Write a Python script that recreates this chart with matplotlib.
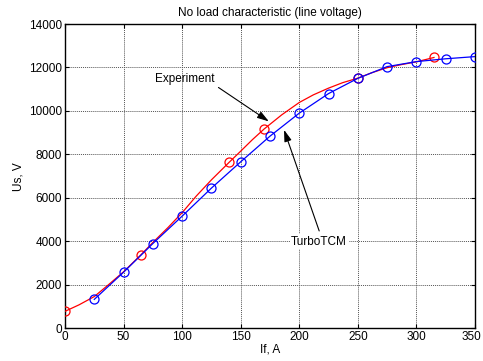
import matplotlib
matplotlib.use("Agg")
import matplotlib.pyplot as plt
import matplotlib.transforms as mtransforms

# Data
turbo_x = [25, 50, 75, 100, 125, 150, 175, 200, 225, 250, 275, 300, 325, 350]
turbo_y = [1330, 2580, 3900, 5160, 6450, 7660, 8840, 9900, 10800, 11500, 12040, 12270, 12400, 12500]

exp_x = [0, 65, 140, 170, 250, 315]
exp_y = [780, 3390, 7630, 9170, 11510, 12460]

exp_curve_x = [0, 12, 25, 37, 50, 65, 75, 88, 100, 112, 125, 140, 150, 160, 170, 185, 200, 212, 225, 237, 250, 262, 275, 287, 300, 315]
exp_curve_y = [780, 1080, 1460, 2000, 2600, 3390, 3950, 4640, 5320, 6080, 6830, 7630, 8150, 8680, 9170, 9820, 10390, 10740, 11050, 11300, 11510, 11760, 11990, 12130, 12260, 12460]

x_ticks = [0, 50, 100, 150, 200, 250, 300, 350]
y_ticks = [0, 2000, 4000, 6000, 8000, 10000, 12000, 14000]

plt.rcParams['font.family'] = ['Liberation Sans', 'DejaVu Sans']
fs = 8.5

fig = plt.figure(figsize=(4.83, 3.61), dpi=100)
ax = fig.add_axes([0.1346, 0.0906, 0.8488, 0.8429])

ax.plot(exp_curve_x, exp_curve_y, color='red', lw=0.9, zorder=3)
ax.plot(exp_x, exp_y, 'o', color='red', mfc='none', ms=6.5, mew=0.9, zorder=3)
ax.plot(turbo_x, turbo_y, '-o', color='blue', mfc='none', ms=6.5, mew=0.9, lw=0.9, zorder=4)

ax.set_xlim(0, 350)
ax.set_ylim(0, 14000)
ax.set_xticks(x_ticks)
ax.set_yticks(y_ticks)
ax.tick_params(direction='in', top=True, right=True, labelsize=fs, length=3, width=0.8, pad=2)
ax.grid(True, linestyle=(0, (1, 1)), color='#555555', lw=0.7)
for s in ax.spines.values():
    s.set_linewidth(1.0)

# keep the last x tick label inside the canvas
last = ax.get_xticklabels()[-1]
last.set_transform(last.get_transform() + mtransforms.ScaledTranslation(-4 / 100, 0, fig.dpi_scale_trans))

ax.set_title('No load characteristic (line voltage)', fontsize=fs, pad=6)
ax.set_xlabel('If, A', fontsize=fs, labelpad=0)
ax.set_ylabel('Us, V', fontsize=fs, labelpad=3)

arrow = dict(arrowstyle='-|>,head_length=0.7,head_width=0.22', color='black', lw=0.8, shrinkA=0, shrinkB=0)
ax.annotate('', xy=(174, 9520), xytext=(131, 11080), arrowprops=arrow, zorder=5)
ax.text(102, 11480, 'Experiment', fontsize=fs, ha='center', va='center', zorder=5)
ax.annotate('', xy=(187, 9130), xytext=(217, 4480), arrowprops=arrow, zorder=5)
ax.text(217, 3990, 'TurboTCM', fontsize=fs, ha='center', va='center', zorder=5,
        bbox=dict(facecolor='white', edgecolor='none', pad=1))

fig.savefig('out.png', dpi=100)
